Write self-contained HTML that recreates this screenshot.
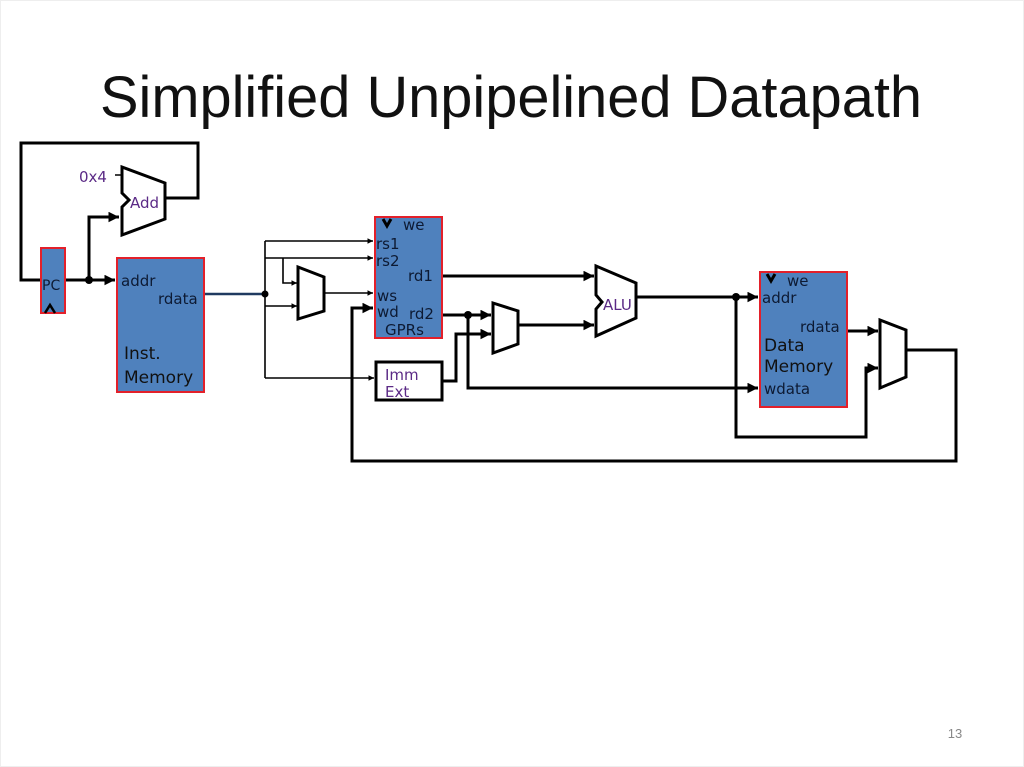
<!DOCTYPE html>
<html><head><style>
html,body{margin:0;padding:0;background:#fff;}
svg{display:block;}
</style></head><body>
<svg width="1024" height="767" viewBox="0 0 1024 767" xmlns="http://www.w3.org/2000/svg" font-family="'DejaVu Sans','Liberation Sans',sans-serif">
<defs>
<marker id="a" viewBox="0 0 10 10" refX="10" refY="5" markerWidth="3.5" markerHeight="3.5" orient="auto"><path d="M0,0L10,5L0,10z" fill="#000"/></marker>
</defs>
<rect x="0.5" y="0.5" width="1023" height="766" fill="none" stroke="#eee"/>
<text x="100" y="117" textLength="822" lengthAdjust="spacingAndGlyphs" font-family="'Liberation Sans',sans-serif" font-size="58" fill="#111">Simplified Unpipelined Datapath</text>
<text x="955" y="738" text-anchor="middle" font-size="13" fill="#888" font-family="'Liberation Sans',sans-serif">13</text>

<g fill="none" stroke="#000" stroke-width="3">
<polyline points="41,280 21,280 21,143 198,143 198,198 165,198"/>
<line x1="65" y1="280" x2="115" y2="280" marker-end="url(#a)"/>
<polyline points="89,280 89,217 119,217" marker-end="url(#a)"/>
<line x1="115" y1="175" x2="122" y2="175" stroke-width="1.5"/>
<polygon points="122,167 165,183 165,219 122,235 122,207 129,200 122,193" fill="#fff"/>
<polygon points="596,266 636,283 636,318 596,336 596,309 602,302 596,295" fill="#fff"/>
<polygon points="298,267 324,277 324,311 298,319" fill="#fff"/>
<polygon points="493,303 518,311 518,344 493,353" fill="#fff"/>
<polygon points="880,320 906,330 906,377 880,388" fill="#fff"/>
</g>
<line x1="204" y1="294" x2="265" y2="294" stroke="#1f3a60" stroke-width="2.5"/>
<g fill="none" stroke="#000" stroke-width="1.6">
<line x1="265" y1="241" x2="373" y2="241" marker-end="url(#a)"/>
<line x1="265" y1="241" x2="265" y2="378"/>
<line x1="265" y1="258" x2="373" y2="258" marker-end="url(#a)"/>
<polyline points="283,258 283,283 297,283" marker-end="url(#a)"/>
<line x1="265" y1="306" x2="297" y2="306" marker-end="url(#a)"/>
<line x1="324" y1="293" x2="373" y2="293" marker-end="url(#a)"/>
<line x1="265" y1="378" x2="374" y2="378" marker-end="url(#a)"/>
</g>
<g fill="none" stroke="#000" stroke-width="3">
<polyline points="905,350 956,350 956,461 352,461 352,308 373,308" marker-end="url(#a)"/>
<line x1="442" y1="276" x2="594" y2="276" marker-end="url(#a)"/>
<line x1="442" y1="315" x2="491" y2="315" marker-end="url(#a)"/>
<polyline points="442,381 456,381 456,334 491,334" marker-end="url(#a)"/>
<polyline points="468,315 468,388 758,388" marker-end="url(#a)"/>
<line x1="518" y1="325" x2="594" y2="325" marker-end="url(#a)"/>
<line x1="636" y1="297" x2="758" y2="297" marker-end="url(#a)"/>
<polyline points="736,297 736,437 866,437 866,368 878,368" marker-end="url(#a)"/>
<line x1="847" y1="331" x2="878" y2="331" marker-end="url(#a)"/>
</g>
<g fill="#000">
<circle cx="89" cy="280" r="4"/><circle cx="265" cy="294" r="3.5"/>
<circle cx="468" cy="315" r="4"/><circle cx="736" cy="297" r="4"/>
</g>
<g fill="#4f81bd" stroke="#e3202a" stroke-width="2">
<rect x="41" y="248" width="24" height="65"/>
<rect x="117" y="258" width="87" height="134"/>
<rect x="375" y="217" width="67" height="121"/>
<rect x="760" y="272" width="87" height="135"/>
</g>
<rect x="376" y="362" width="66" height="38" fill="#fff" stroke="#000" stroke-width="3"/>
<g font-size="15" fill="#0d1a33">
<text x="42" y="290" font-size="14">PC</text>
<path d="M45,313 L50,305 L55,313" fill="none" stroke="#000" stroke-width="2.5"/>
<text x="121" y="286">addr</text>
<text x="158" y="304">rdata</text>
<text x="124" y="359" font-size="17" fill="#111">Inst.</text>
<text x="124" y="383" font-size="17" fill="#111">Memory</text>
<path d="M383,219 L387,226 L391,219" fill="none" stroke="#000" stroke-width="3"/>
<text x="403" y="230">we</text>
<text x="376" y="249">rs1</text>
<text x="376" y="266">rs2</text>
<text x="408" y="281">rd1</text>
<text x="377" y="301">ws</text>
<text x="377" y="317">wd</text>
<text x="409" y="319">rd2</text>
<text x="385" y="335">GPRs</text>
<path d="M767,274 L771,281 L775,274" fill="none" stroke="#000" stroke-width="3"/>
<text x="787" y="286">we</text>
<text x="762" y="303">addr</text>
<text x="800" y="332">rdata</text>
<text x="764" y="351" font-size="17" fill="#111">Data</text>
<text x="764" y="372" font-size="17" fill="#111">Memory</text>
<text x="764" y="394">wdata</text>
</g>
<g font-size="15" fill="#5b2a86">
<text x="79" y="182">0x4</text>
<text x="130" y="208">Add</text>
<text x="603" y="310">ALU</text>
<text x="385" y="380">Imm</text>
<text x="385" y="397">Ext</text>
</g>
</svg>
</body></html>
